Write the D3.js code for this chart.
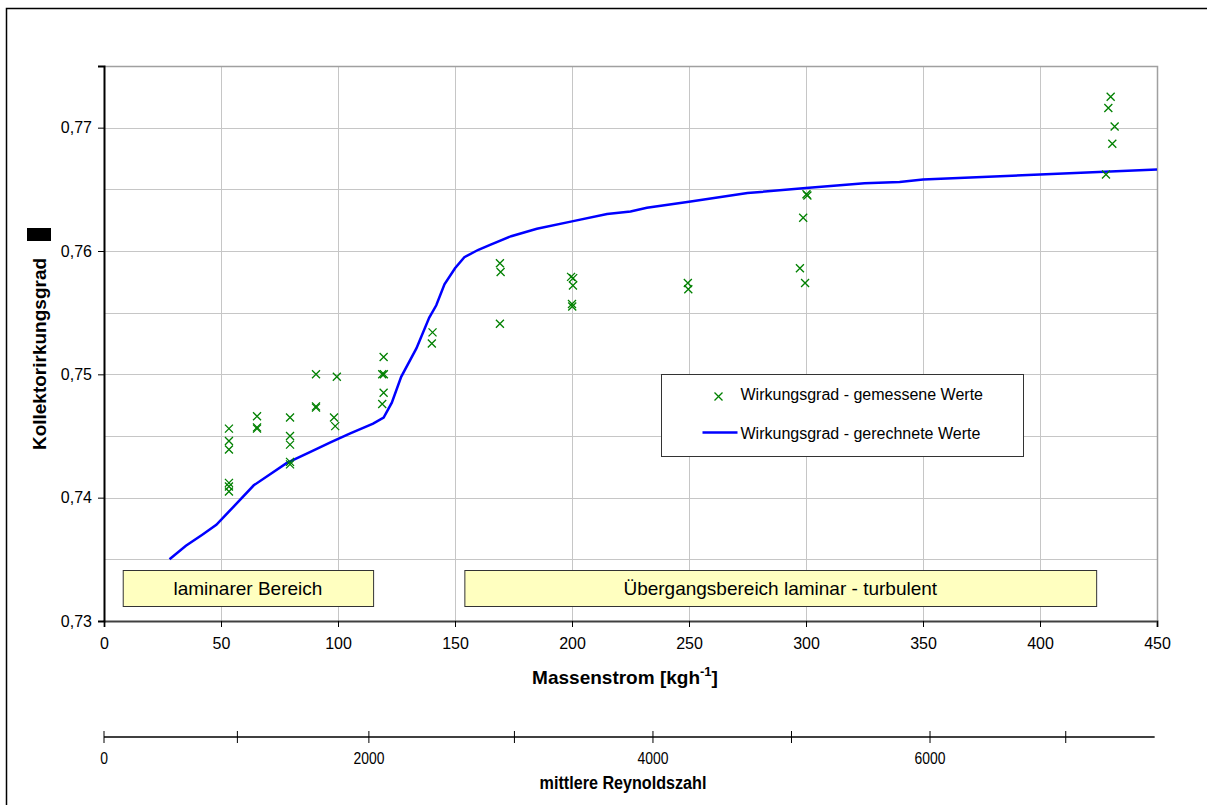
<!DOCTYPE html>
<html>
<head>
<meta charset="utf-8">
<script src="https://cdn.jsdelivr.net/npm/d3@7"></script>
<style>
  body { margin: 0; background: #fff; }
  svg { font-family: "Liberation Sans", Arial, sans-serif; }
  .tick text { font-size: 16px; fill: #000; }
</style>
</head>
<body>
<svg id="chart" width="1207" height="805"></svg>
<script>
// measured efficiency (mass flow kg/h, efficiency)
const measuredFlow = [53.4, 53.4, 53.4, 53.4, 53.4, 53.4,
  65.4, 65.4, 65.4,
  79.5, 79.5, 79.5, 79.5, 79.5,
  90.6, 90.6, 90.6,
  99.5, 98.3, 98.8,
  119.5, 118.9, 119.6, 119.5, 118.9,
  140.4, 140.1,
  169.2, 169.5, 169.2,
  199.6, 200.5, 200.4, 200.0, 200.1,
  249.5, 249.7,
  297.4, 299.6, 298.8, 300.2, 300.6,
  430.2, 429.2, 431.9, 430.9, 428.2]
const measuredEff = [0.7456, 0.7446, 0.7439, 0.7412, 0.7409, 0.7405,
  0.7466, 0.7457, 0.7456,
  0.7465, 0.7450, 0.7443, 0.7429, 0.7427,
  0.7500, 0.7474, 0.7473,
  0.7498, 0.7465, 0.7458,
  0.7514, 0.7500, 0.7500, 0.7485, 0.7476,
  0.7534, 0.7525,
  0.7590, 0.7583, 0.7541,
  0.7579, 0.7578, 0.7572, 0.7557, 0.7555,
  0.7574, 0.7569,
  0.7586, 0.7574, 0.7627, 0.7646, 0.7645,
  0.7725, 0.7716, 0.7701, 0.7687, 0.7662]

// calculated efficiency
const calcFlow = [28, 35, 42, 48, 55, 64, 78, 88, 97, 105, 115, 119.5, 123, 127, 133.5, 139, 142, 145.5,
  150, 154, 160, 165, 174, 185, 200, 215, 225, 232, 250, 275, 300, 325, 340, 350, 400, 450]
const calcEff = [0.7350, 0.7361, 0.7370, 0.7378, 0.7392, 0.7410, 0.7428, 0.7437, 0.7445, 0.7452, 0.7460, 0.7465,
  0.7477, 0.7498, 0.7521, 0.7546, 0.7556, 0.7573, 0.7586, 0.7595, 0.7601, 0.7605, 0.7612, 0.7618,
  0.7624, 0.7630, 0.7632, 0.7635, 0.7640, 0.7647, 0.7651, 0.7655, 0.7656, 0.7658, 0.7662, 0.7666]

const xTicks = [0, 50, 100, 150, 200, 250, 300, 350, 400, 450]
const yTicks = [0.73, 0.74, 0.75, 0.76, 0.77]
const yGrid = [0.735, 0.74, 0.745, 0.75, 0.755, 0.76, 0.765, 0.77]

// Reynolds number ticks and the mass flow they correspond to
const reTicks = [0, 1000, 2000, 3000, 4000, 5000, 6000, 7000]
const reMassflow = [0, 57, 113.2, 175.4, 234.6, 293.8, 353, 411]
const reLabels = [0, 2000, 4000, 6000]

const regions = [
  { from: 8, to: 115, label: 'laminarer Bereich' },
  { from: 154, to: 424, label: 'Übergangsbereich laminar - turbulent' }
]

const margin = { top: 66, right: 50, bottom: 184, left: 104 }
const width = 1207
const height = 805

const svg = d3.select('#chart')

// outer frame
svg.append('rect')
  .attr('x', 6.5).attr('y', 8.5)
  .attr('width', 1220).attr('height', 820)
  .attr('fill', 'none').attr('stroke', '#000').attr('stroke-width', 1.5)

const x = d3.scaleLinear().domain([0, 450]).range([margin.left, width - margin.right])
const y = d3.scaleLinear().domain([0.73, 0.775]).range([height - margin.bottom, margin.top])

// grid
svg.append('g').selectAll('line')
  .data(yGrid).join('line')
  .attr('x1', x(0)).attr('x2', x(450))
  .attr('y1', d => Math.round(y(d)) + 0.5).attr('y2', d => Math.round(y(d)) + 0.5)
  .attr('stroke', '#c6c6c6')
svg.append('g').selectAll('line')
  .data(xTicks.slice(1, -1)).join('line')
  .attr('x1', d => Math.round(x(d)) + 0.5).attr('x2', d => Math.round(x(d)) + 0.5)
  .attr('y1', y(0.775)).attr('y2', y(0.73))
  .attr('stroke', '#c6c6c6')

// plot border (top/right)
svg.append('path')
  .attr('d', `M${x(0)},${y(0.775) + 0.5}H${x(450) + 0.5}V${y(0.73)}`)
  .attr('fill', 'none').attr('stroke', '#a0a0a0').attr('stroke-width', 1.5)

// x axis
const xAxisG = svg.append('g')
  .attr('transform', `translate(0, ${y(0.73)})`)
  .call(d3.axisBottom(x).tickValues(xTicks).tickSizeOuter(0).tickSize(6).tickPadding(11))
xAxisG.select('.domain').attr('stroke', '#404040').attr('stroke-width', 2)
xAxisG.selectAll('.tick line').attr('stroke', '#000')

// y axis
const yAxisG = svg.append('g')
  .attr('transform', `translate(${x(0)}, 0)`)
  .call(d3.axisLeft(y).tickValues(yTicks).tickSizeOuter(0).tickSize(6).tickPadding(6)
    .tickFormat(d => d3.format('.2f')(d).replace('.', ',')))
yAxisG.select('.domain').attr('stroke', '#000').attr('stroke-width', 2)

// calculated line
const line = d3.line().x(d => x(d[0])).y(d => y(d[1]))
svg.append('path')
  .datum(d3.zip(calcFlow, calcEff))
  .attr('d', line)
  .attr('fill', 'none').attr('stroke', '#0000ff').attr('stroke-width', 2.5)

// measured points
const cross = (cx, cy, r) => `M${cx - r},${cy - r}L${cx + r},${cy + r}M${cx - r},${cy + r}L${cx + r},${cy - r}`
svg.append('g').selectAll('path')
  .data(d3.zip(measuredFlow, measuredEff)).join('path')
  .attr('d', d => cross(x(d[0]), y(d[1]), 4))
  .attr('stroke', '#008000').attr('stroke-width', 1.3).attr('fill', 'none')

// region boxes
const rg = svg.append('g').selectAll('g').data(regions).join('g')
rg.append('rect')
  .attr('x', d => x(d.from) + 0.5).attr('y', 570.5)
  .attr('width', d => x(d.to) - x(d.from)).attr('height', 36)
  .attr('fill', '#ffffc0').attr('stroke', '#333').attr('stroke-width', 1)
rg.append('text')
  .attr('x', d => (x(d.from) + x(d.to)) / 2).attr('y', 595)
  .attr('text-anchor', 'middle').attr('font-size', 19)
  .text(d => d.label)

// legend
const lg = svg.append('g').attr('transform', 'translate(661.5, 374.5)')
lg.append('rect').attr('width', 362).attr('height', 82)
  .attr('fill', '#fff').attr('stroke', '#333')
lg.append('path').attr('d', cross(57, 22, 4))
  .attr('stroke', '#008000').attr('stroke-width', 1.3)
lg.append('text').attr('x', 79).attr('y', 25).attr('font-size', 16).text('Wirkungsgrad - gemessene Werte')
lg.append('line').attr('x1', 41).attr('x2', 76).attr('y1', 58).attr('y2', 58)
  .attr('stroke', '#0000ff').attr('stroke-width', 2.5)
lg.append('text').attr('x', 79).attr('y', 64).attr('font-size', 16).text('Wirkungsgrad - gerechnete Werte')

// axis titles
const xt = svg.append('text')
  .attr('x', 625).attr('y', 684)
  .attr('text-anchor', 'middle').attr('font-size', 19).attr('font-weight', 'bold')
xt.append('tspan').text('Massenstrom [kgh')
xt.append('tspan').attr('dy', -8).attr('font-size', 13).text('-1')
xt.append('tspan').attr('dy', 8).text(']')

svg.append('text')
  .attr('transform', 'translate(46, 354) rotate(-90)')
  .attr('text-anchor', 'middle').attr('font-size', 19).attr('font-weight', 'bold')
  .text('Kollektorirkungsgrad')
svg.append('rect').attr('x', 27).attr('y', 228).attr('width', 24).attr('height', 13).attr('fill', '#000')

// Reynolds secondary axis (condensed font look)
const re = d3.scaleLinear().domain(reTicks).range(reMassflow.map(x))
const reG = svg.append('g').attr('transform', 'translate(0, 737)')
reG.append('line').attr('x1', x(0)).attr('x2', x(449)).attr('stroke', '#000').attr('stroke-width', 1.5)
reG.selectAll('line.t').data(reTicks).join('line').attr('class', 't')
  .attr('x1', d => re(d)).attr('x2', d => re(d)).attr('y1', -6).attr('y2', 6)
  .attr('stroke', '#000')
reG.selectAll('text').data(reLabels).join('text')
  .attr('transform', d => `translate(${re(d)}, 27) scale(0.82, 1)`)
  .attr('text-anchor', 'middle')
  .attr('font-size', 17)
  .text(d => d)
svg.append('text')
  .attr('transform', 'translate(623, 789) scale(0.85, 1)')
  .attr('text-anchor', 'middle').attr('font-size', 19).attr('font-weight', 'bold')
  .text('mittlere Reynoldszahl')
</script>
</body>
</html>
